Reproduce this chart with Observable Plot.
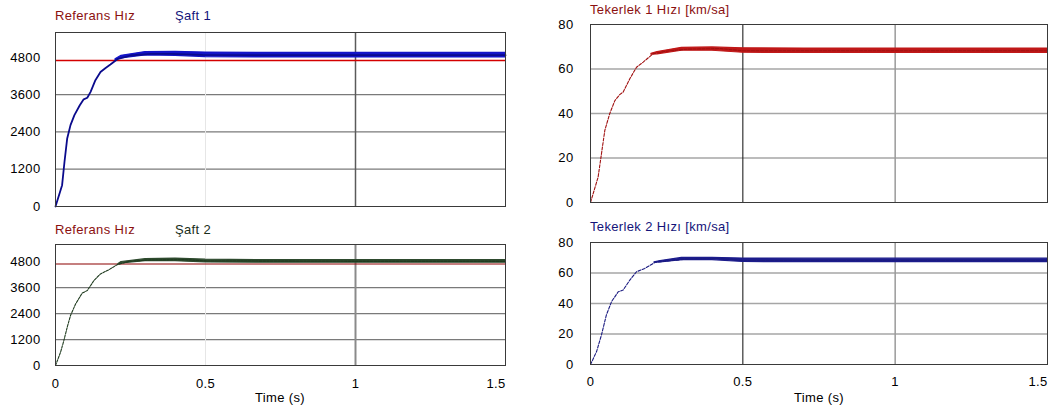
<!DOCTYPE html>
<html><head><meta charset="utf-8">
<script src="https://cdn.jsdelivr.net/npm/d3@7"></script>
<script src="https://cdn.jsdelivr.net/npm/@observablehq/plot@0.6"></script>
<style>
body{margin:0;background:#fff;}
#wrap{position:relative;width:1048px;height:407px;overflow:hidden;background:#fff;font-family:"Liberation Sans",Arial,sans-serif;}
.panel{position:absolute;}
.lbl{position:absolute;font-size:13px;letter-spacing:0.35px;white-space:nowrap;line-height:15px;}
</style></head><body><div id="wrap"></div>
<script>
// ---- data ----
const xTicks = [0, 0.5, 1, 1.5];
const shaftTicks = [0, 1200, 2400, 3600, 4800];
const shaftGrid = [1200, 2400, 3600];
const wheelTicks = [0, 20, 40, 60, 80];
const wheelGrid = [20, 40, 60];
const referenceSpeed = 4700;

const shaft1T = [0, 0.022, 0.030, 0.039, 0.050, 0.063, 0.081, 0.094, 0.106, 0.117, 0.133, 0.150, 0.167, 0.183, 0.206, 0.25, 0.317, 0.383, 0.49, 0.7, 1.0, 1.5];
const shaft1V = [0, 685, 1440, 2190, 2620, 2940, 3260, 3450, 3500, 3690, 4065, 4330, 4460, 4570, 4740, 4860, 4910, 4910, 4880, 4870, 4870, 4870];
const shaft1BandT = [0.2, 0.22, 0.3, 0.4, 0.5, 0.7, 1.0, 1.5];
const shaft1Hi = [4740, 4850, 4970, 4980, 4955, 4945, 4945, 4945];
const shaft1Lo = [4700, 4770, 4860, 4850, 4810, 4795, 4795, 4795];

const shaft2T = [0, 0.017, 0.028, 0.039, 0.050, 0.067, 0.089, 0.106, 0.128, 0.150, 0.178, 0.206, 0.25, 0.317, 0.43, 0.5, 1.0, 1.5];
const shaft2V = [0, 620, 1160, 1770, 2310, 2850, 3350, 3470, 3930, 4240, 4430, 4670, 4830, 4880, 4900, 4840, 4820, 4820];
const shaft2BandT = [0.21, 0.22, 0.3, 0.4, 0.5, 0.7, 1.0, 1.5];
const shaft2Hi = [4700, 4790, 4920, 4950, 4900, 4875, 4875, 4875];
const shaft2Lo = [4680, 4720, 4830, 4830, 4770, 4755, 4755, 4755];

const wheel1T = [0, 0.025, 0.036, 0.047, 0.063, 0.080, 0.096, 0.107, 0.129, 0.151, 0.173, 0.205, 0.249, 0.315, 0.424, 0.5, 1.0, 1.5];
const wheel1V = [0, 11.4, 21.9, 32.4, 39.9, 45.8, 48.5, 49.6, 55.6, 60.8, 63.1, 66.8, 68.0, 68.9, 69.2, 68.2, 68.2, 68.2];
const wheel1BandT = [0.2, 0.22, 0.3, 0.4, 0.5, 0.7, 1.0, 1.5];
const wheel1Hi = [66.8, 67.6, 69.5, 69.7, 69.3, 69.2, 69.2, 69.2];
const wheel1Lo = [66.4, 66.6, 68.2, 68.2, 67.3, 67.2, 67.2, 67.2];

const wheel2T = [0, 0.02, 0.036, 0.052, 0.069, 0.091, 0.107, 0.129, 0.151, 0.178, 0.211, 0.249, 0.315, 0.424, 0.5, 1.0, 1.5];
const wheel2V = [0, 8.5, 19.4, 32.4, 41.2, 47.7, 48.8, 55.3, 60.8, 63.0, 66.9, 67.8, 69.1, 69.5, 68.2, 68.2, 68.2];
const wheel2BandT = [0.21, 0.23, 0.3, 0.4, 0.5, 0.7, 1.0, 1.5];
const wheel2Hi = [67.0, 67.8, 69.9, 70.0, 69.5, 69.4, 69.4, 69.4];
const wheel2Lo = [66.8, 66.9, 68.4, 68.5, 67.2, 67.1, 67.1, 67.1];

const labels = {
  ref: "Referans Hız", shaft1: "Şaft 1", shaft2: "Şaft 2",
  wheel1: "Tekerlek 1 Hızı [km/sa]", wheel2: "Tekerlek 2 Hızı [km/sa]", time: "Time (s)"
};
// ---------------------------------------

const wrap = document.getElementById("wrap");
const rows = (T, V) => T.map((t, i) => ({t, v: V[i]}));
const bandRows = (T, H, L) => T.map((t, i) => ({t, hi: H[i], lo: L[i]}));

function panel(o) {
  const marks = [
    Plot.ruleY(o.grid, {stroke: o.hGrid, strokeWidth: 1.3}),
    Plot.ruleX([0.5], {stroke: o.v05, strokeWidth: o.v05w}),
    Plot.ruleX([1], {stroke: o.v1, strokeWidth: o.v1w}),
  ];
  if (o.ref) marks.push(Plot.ruleY([referenceSpeed], {stroke: o.refColor, strokeWidth: o.refWidth}));
  marks.push(
    Plot.areaY(o.band, {x: "t", y1: "lo", y2: "hi", fill: o.bandColor, stroke: o.bandColor, strokeWidth: 1.2, curve: "linear"}),
    Plot.line(o.line, {x: "t", y: "v", stroke: o.color, strokeWidth: o.lineWidth, strokeDasharray: o.dash}),
    Plot.frame({stroke: "#3a3a3a", strokeWidth: 1}),
    Plot.axisY(o.yTicks, {tickSize: 0, tickPadding: o.yPad, tickFormat: d => String(d), label: null})
  );
  if (o.xAxis) {
    marks.push(
      Plot.axisX(xTicks.slice(0, 3), {tickSize: 0, tickPadding: o.xPad, tickFormat: d => String(d), label: null}),
      Plot.axisX(xTicks.slice(3), {tickSize: 0, tickPadding: o.xPad, tickFormat: d => String(d), textAnchor: "end", label: null})
    );
  }
  const svg = Plot.plot({
    width: o.width, height: o.height,
    marginLeft: o.ml, marginRight: o.mr, marginTop: o.mt, marginBottom: o.mb,
    x: {domain: [0, 1.5], axis: null, label: null},
    y: {domain: o.yDomain, axis: null, label: null},
    style: {fontFamily: "Liberation Sans, Arial, sans-serif", fontSize: "13px", letterSpacing: "0.35px", color: "#000", background: "transparent", overflow: "visible"},
    marks
  });
  const d = document.createElement("div");
  d.className = "panel";
  d.style.left = o.left + "px"; d.style.top = o.top + "px";
  d.appendChild(svg);
  wrap.appendChild(d);
}

function label(text, left, top, color, center) {
  const s = document.createElement("div");
  s.className = "lbl";
  s.textContent = text;
  s.style.top = top + "px";
  s.style.color = color;
  if (center) { s.style.left = (left - 60) + "px"; s.style.width = "120px"; s.style.textAlign = "center"; }
  else s.style.left = left + "px";
  wrap.appendChild(s);
}

// top-left: Şaft 1
panel({left: 0, top: 0, width: 524, height: 215, ml: 55, mr: 19, mt: 32, mb: 9,
  yDomain: [0, 5600], yTicks: shaftTicks, grid: shaftGrid, yPad: 15, hGrid: "#7a7a7a",
  v05: "#e6e6e6", v05w: 1, v1: "#5a5a5a", v1w: 1.5,
  ref: true, refColor: "#d40000", refWidth: 1.6,
  band: bandRows(shaft1BandT, shaft1Hi, shaft1Lo), bandColor: "#1414c8",
  line: rows(shaft1T, shaft1V), color: "#0a0a8c", lineWidth: 1.8, dash: null, xAxis: false});

// bottom-left: Şaft 2
panel({left: 0, top: 215, width: 524, height: 192, ml: 55, mr: 19, mt: 29, mb: 42,
  yDomain: [0, 5600], yTicks: shaftTicks, grid: shaftGrid, yPad: 15, hGrid: "#7a7a7a",
  v05: "#e6e6e6", v05w: 1, v1: "#8a8a8a", v1w: 2,
  ref: true, refColor: "#8b0000", refWidth: 1.1,
  band: bandRows(shaft2BandT, shaft2Hi, shaft2Lo), bandColor: "#2e4a2e",
  line: rows(shaft2T, shaft2V), color: "#1e3a1e", lineWidth: 1.1, dash: "2.5,1.2", xAxis: true, xPad: 13});

// top-right: Tekerlek 1
panel({left: 530, top: 0, width: 518, height: 215, ml: 60, mr: 1, mt: 24, mb: 13,
  yDomain: [0, 80], yTicks: wheelTicks, grid: wheelGrid, yPad: 17, hGrid: "#a6a6a6",
  v05: "#222", v05w: 1.1, v1: "#9a9a9a", v1w: 1.5,
  ref: false,
  band: bandRows(wheel1BandT, wheel1Hi, wheel1Lo), bandColor: "#c01818",
  line: rows(wheel1T, wheel1V), color: "#a01010", lineWidth: 1.1, dash: "3,1.5", xAxis: false});

// bottom-right: Tekerlek 2
panel({left: 530, top: 215, width: 518, height: 192, ml: 60, mr: 1, mt: 27, mb: 43,
  yDomain: [0, 80], yTicks: wheelTicks, grid: wheelGrid, yPad: 17, hGrid: "#a6a6a6",
  v05: "#222", v05w: 1.1, v1: "#9a9a9a", v1w: 1.5,
  ref: false,
  band: bandRows(wheel2BandT, wheel2Hi, wheel2Lo), bandColor: "#1c1c8c",
  line: rows(wheel2T, wheel2V), color: "#1a1a80", lineWidth: 1.1, dash: "3,1.5", xAxis: true, xPad: 12.5});

label(labels.ref, 55, 8.2, "#8b1010");
label(labels.shaft1, 175, 8.2, "#14147a");
label(labels.ref, 55, 222.2, "#8b1010");
label(labels.shaft2, 175, 222.2, "#1a2e1a");
label(labels.wheel1, 590, 1.5, "#8b1010");
label(labels.wheel2, 590, 219, "#14147a");
label(labels.time, 280, 390, "#000", true);
label(labels.time, 819, 390, "#000", true);
</script></body></html>
